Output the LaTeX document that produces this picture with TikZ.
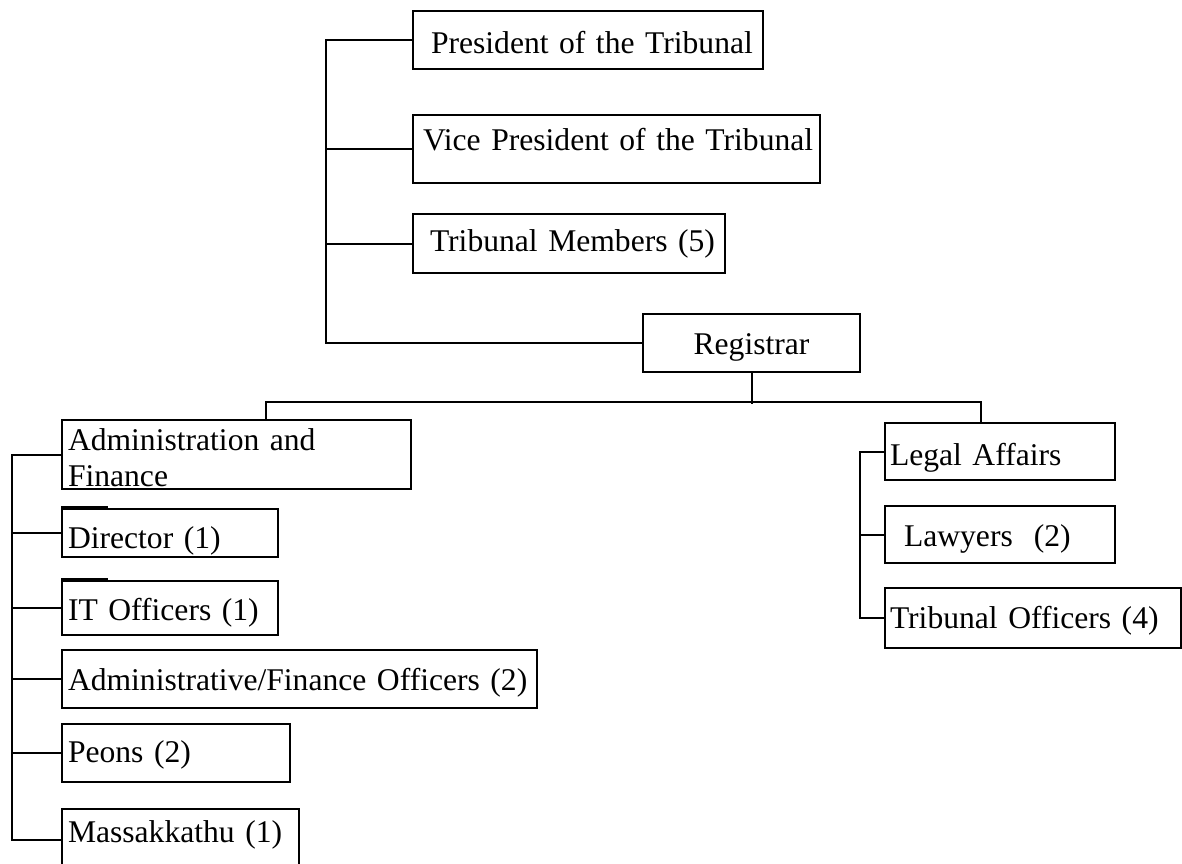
\documentclass[tikz,border=0pt]{standalone}
\usepackage{fontspec}
\setmainfont{Liberation Serif}
\newcommand\chartfont{\fontsize{15.8}{18.3}\selectfont}

\begin{document}
\begin{tikzpicture}
[x=0.5pt,y=-0.5pt,
 office/.style={draw,line width=1pt,anchor=north west,align=left,inner sep=0pt,font=\chartfont},
 lead/.style={execute at begin node={\hspace*{#1}}},
 link/.style={line width=1pt}]
\useasboundingbox (0,0) rectangle (1182,863);
\clip (0,0) rectangle (1182,863);

\node[office,text width=175pt,text height=21pt,text depth=8pt,lead=9pt] (pres) at (412,10) {President of the Tribunal};
\node[office,text width=203.5pt,text height=17.5pt,text depth=16.5pt,lead=5pt] (vice) at (412,114) {Vice President of the Tribunal};
\node[office,text width=156pt,text height=18.5pt,text depth=11pt,lead=8.5pt] (memb) at (412,213) {Tribunal Members (5)};
\node[office,align=center,text width=108.5pt,text height=20pt,text depth=9pt] (reg) at (642,313) {Registrar};

\node[office,text width=174.5pt,text height=15pt,text depth=19.5pt,lead=3pt] (admin) at (61,419) {Administration and\\\hspace*{3pt}Finance};
\node[office,text width=108pt,text height=19.5pt,text depth=4.5pt,lead=3pt] (dir) at (61,508) {Director (1)};
\node[office,text width=108pt,text height=19.5pt,text depth=7.5pt,lead=3pt] (it) at (61,580) {IT Officers (1)};
\node[office,text width=237.5pt,text height=20pt,text depth=9pt,lead=3pt] (afo) at (61,649) {Administrative/Finance Officers (2)};
\node[office,text width=114pt,text height=19pt,text depth=10pt,lead=3pt] (peon) at (61,723) {Peons (2)};
\node[office,text width=118.5pt,text height=16.5pt,text depth=14.5pt,lead=3pt] (mass) at (61,808) {Massakkathu (1)};

\node[office,text width=115pt,text height=21pt,text depth=7.5pt,lead=2.5pt] (legal) at (884,422) {Legal Affairs};
\node[office,text width=115pt,text height=20pt,text depth=8.5pt,lead=9.5pt] (lawy) at (884,505) {Lawyers\ \ (2)};
\node[office,text width=148pt,text height=20pt,text depth=10pt,lead=2.5pt] (toff) at (884,587) {Tribunal Officers (4)};

\coordinate (topbus) at (326,0);
\coordinate (leftbus) at (12,0);
\coordinate (rightbus) at (860,0);
\coordinate (leftdrop) at (266,419);
\coordinate (rightdrop) at (981,422);

\draw [link] (pres.west) -| (topbus |- reg.west) -- (reg.west);
\draw [link] (vice.west) -- (vice.west -| topbus);
\draw [link] (memb.west) -- (memb.west -| topbus);

\draw [link] (reg.south) -- ++(0,31);
\draw [link] (leftdrop) -- ++(0,-17) -| (rightdrop);

\draw [link] (admin.west) -| (leftbus |- mass.west) -- (mass.west);
\foreach \n in {dir,it,afo,peon}
  \draw [link] (\n.west) -- (\n.west -| leftbus);
\draw [link] ([yshift=0.5pt]dir.north west) -- ++(47,0);
\draw [link] ([yshift=0.5pt]it.north west) -- ++(47,0);

\draw [link] (legal.west) -| (rightbus |- toff.west) -- (toff.west);
\draw [link] (lawy.west) -- (lawy.west -| rightbus);
\end{tikzpicture}
\end{document}
